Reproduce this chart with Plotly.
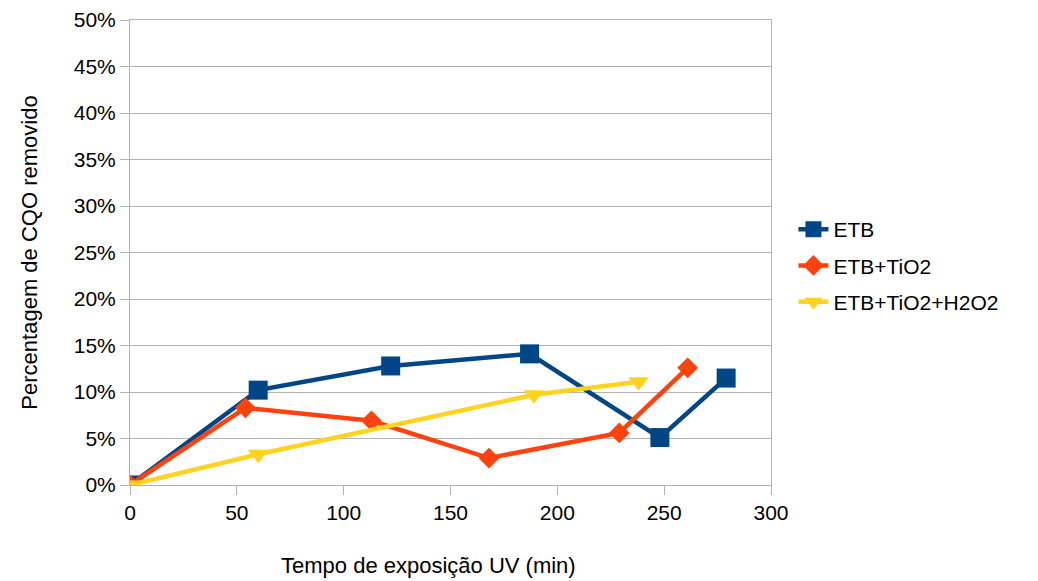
import plotly.graph_objects as go

# Tempo de exposicao UV (min) e percentagem de CQO removido (%)
etb_x = [0, 60, 122, 187, 248, 279]
etb_y = [0, 10.2, 12.8, 14.1, 5.1, 11.5]

tio2_x = [0, 54, 113, 168, 229, 261]
tio2_y = [0, 8.3, 6.9, 2.9, 5.6, 12.6]

h2o2_x = [0, 60, 189, 238]
h2o2_y = [0, 3.3, 9.7, 11.1]

x_ticks = [0, 50, 100, 150, 200, 250, 300]
y_ticks = [0, 5, 10, 15, 20, 25, 30, 35, 40, 45, 50]
y_labels = [f"{v}%" for v in y_ticks]

fig = go.Figure()

fig.add_trace(go.Scatter(
    x=etb_x, y=etb_y, name="ETB", mode="lines+markers", legendgroup="a",
    line=dict(color="#004586", width=4.5),
    marker=dict(symbol="square", size=19, color="#004586")
))
fig.add_trace(go.Scatter(
    x=tio2_x, y=tio2_y, name="ETB+TiO2", mode="lines+markers", legendgroup="b",
    line=dict(color="#ff420e", width=4.5),
    marker=dict(symbol="diamond", size=16, color="#ff420e")
))
fig.add_trace(go.Scatter(
    x=h2o2_x, y=h2o2_y, name="ETB+TiO2+H2O2", mode="lines+markers", legendgroup="c",
    line=dict(color="#ffd320", width=4.5),
    marker=dict(symbol="triangle-down", size=18, color="#ffd320")
))

# the page body has an 8px margin, so the figure is sized to fit the window
fig.update_layout(
    width=1030, height=573,
    margin=dict(l=122, r=267, t=12, b=96),
    plot_bgcolor="white", paper_bgcolor="white",
    font=dict(family="Liberation Sans, Arial, sans-serif", size=21, color="black"),
    legend=dict(x=1.035, xanchor="left", y=0.472, yanchor="middle",
                bgcolor="rgba(0,0,0,0)",
                font=dict(size=21), tracegroupgap=6),
)

# x title sits a little left of the axis centre in the original
fig.add_annotation(
    text="Tempo de exposição UV (min)", xref="paper", yref="paper",
    x=0.465, y=0, yshift=-80, xanchor="center", yanchor="middle",
    showarrow=False, font=dict(size=22),
)

fig.update_xaxes(
    range=[0, 300], tickvals=x_ticks,
    showgrid=False, zeroline=False, automargin=False,
    showline=True, linecolor="#b3b3b3", linewidth=1, mirror=True,
    ticks="outside", ticklen=9, tickcolor="#b3b3b3",
)
fig.update_yaxes(
    range=[0, 50], tickvals=y_ticks, ticktext=y_labels,
    showgrid=True, gridcolor="#b3b3b3", zeroline=False, automargin=False,
    showline=True, linecolor="#b3b3b3", linewidth=1, mirror=True,
    ticks="outside", ticklen=9, tickcolor="#b3b3b3",
    title=dict(text="Percentagem de CQO removido", font=dict(size=22), standoff=30),
)

fig.write_html("out.html")
